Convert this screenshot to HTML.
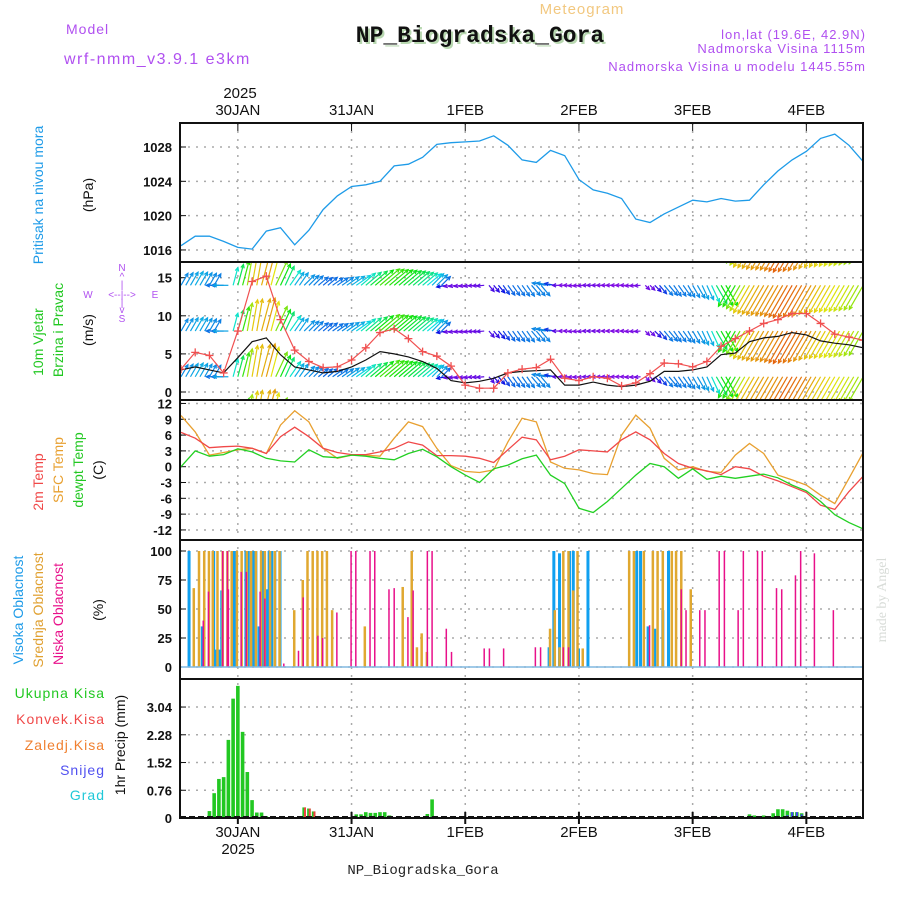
<!DOCTYPE html>
<html><head><meta charset="utf-8"><title>Meteogram NP_Biogradska_Gora</title>
<style>
html,body{margin:0;padding:0;background:#fff;}
svg{display:block;font-family:"Liberation Sans",sans-serif;}
</style></head>
<body>
<svg id="chart" xmlns="http://www.w3.org/2000/svg" width="900" height="900" viewBox="0 0 900 900">
<defs>
<clipPath id="c1"><rect x="180" y="123" width="683" height="139"/></clipPath>
<clipPath id="c2"><rect x="180" y="262" width="683" height="138"/></clipPath>
<clipPath id="c3"><rect x="180" y="400" width="683" height="140"/></clipPath>
<clipPath id="c4"><rect x="180" y="540" width="683" height="139"/></clipPath>
<clipPath id="c5"><rect x="180" y="679" width="683" height="139"/></clipPath>
</defs>
<rect width="900" height="900" fill="#fff"/>
<!-- header -->
<text x="582" y="14" font-size="15" fill="#f2c880" text-anchor="middle" letter-spacing="1">Meteogram</text>
<text x="66" y="34" font-size="14" fill="#b050f0" letter-spacing="1">Model</text>
<text x="64" y="64" font-size="16" fill="#b050f0" letter-spacing="1.5">wrf-nmm_v3.9.1 e3km</text>
<text x="482" y="44" font-size="23" font-weight="bold" fill="#b8d8b0" text-anchor="middle" font-family="Liberation Mono, monospace">NP_Biogradska_Gora</text>
<text x="480" y="42" font-size="23" font-weight="bold" fill="#111" text-anchor="middle" font-family="Liberation Mono, monospace">NP_Biogradska_Gora</text>
<text x="866" y="39" font-size="13" fill="#b050f0" text-anchor="end" letter-spacing="1">lon,lat (19.6E, 42.9N)</text>
<text x="866" y="53" font-size="13" fill="#b050f0" text-anchor="end" letter-spacing="1">Nadmorska Visina 1115m</text>
<text x="866" y="71" font-size="13" fill="#b050f0" text-anchor="end" letter-spacing="1">Nadmorska Visina u modelu 1445.55m</text>
<text x="240" y="98" font-size="15" fill="#111" text-anchor="middle">2025</text>
<text x="238" y="854" font-size="15" fill="#111" text-anchor="middle">2025</text>
<text x="423" y="874" font-size="14" fill="#222" text-anchor="middle" font-family="Liberation Mono, monospace">NP_Biogradska_Gora</text>
<text transform="rotate(-90 886 600)" x="886" y="600" font-size="14" fill="#d8dcd8" text-anchor="middle" font-family="Liberation Serif, serif">made by Angel</text>
<!-- side labels -->
<text transform="rotate(-90 43 195)" x="43" y="195" font-size="14" fill="#1e9be8" text-anchor="middle">Pritisak na nivou mora</text>
<text transform="rotate(-90 93 195)" x="93" y="195" font-size="14" fill="#111" text-anchor="middle">(hPa)</text>
<text transform="rotate(-90 43 342)" x="43" y="342" font-size="14" fill="#22c822" text-anchor="middle">10m Vjetar</text>
<text transform="rotate(-90 63 330)" x="63" y="330" font-size="14" fill="#22c822" text-anchor="middle">Brzina i Pravac</text>
<text transform="rotate(-90 93 330)" x="93" y="330" font-size="14" fill="#111" text-anchor="middle">(m/s)</text>
<g fill="#b050f0" font-size="10" text-anchor="middle">
<text x="122" y="271">N</text>
<text x="122" y="280">^</text>
<text x="122" y="288">|</text>
<text x="88" y="298">W</text>
<text x="122" y="298">&lt;--|--&gt;</text>
<text x="155" y="298">E</text>
<text x="122" y="306">|</text>
<text x="122" y="313">v</text>
<text x="122" y="322">S</text>
</g>
<text transform="rotate(-90 43 482)" x="43" y="482" font-size="14" fill="#f04848" text-anchor="middle">2m Temp</text>
<text transform="rotate(-90 63 470)" x="63" y="470" font-size="14" fill="#e8a030" text-anchor="middle">SFC Temp</text>
<text transform="rotate(-90 83 470)" x="83" y="470" font-size="14" fill="#22c822" text-anchor="middle">dewpt Temp</text>
<text transform="rotate(-90 103 470)" x="103" y="470" font-size="14" fill="#111" text-anchor="middle">(C)</text>
<text transform="rotate(-90 23 610)" x="23" y="610" font-size="14" fill="#1e9be8" text-anchor="middle">Visoka Oblacnost</text>
<text transform="rotate(-90 43 610)" x="43" y="610" font-size="14" fill="#e0a030" text-anchor="middle">Srednja Oblacnost</text>
<text transform="rotate(-90 63 614)" x="63" y="614" font-size="14" fill="#e8108a" text-anchor="middle">Niska Oblacnost</text>
<text transform="rotate(-90 103 610)" x="103" y="610" font-size="14" fill="#111" text-anchor="middle">(%)</text>
<g font-size="14" text-anchor="end">
<text x="105" y="698" fill="#22c822" letter-spacing="1">Ukupna Kisa</text>
<text x="105" y="724" fill="#f04848" letter-spacing="1">Konvek.Kisa</text>
<text x="105" y="750" fill="#f08030" letter-spacing="1">Zaledj.Kisa</text>
<text x="105" y="775" fill="#5050f0" letter-spacing="1">Snijeg</text>
<text x="105" y="800" fill="#20c8d8" letter-spacing="1">Grad</text>
</g>
<text transform="rotate(-90 125 745)" x="125" y="745" font-size="14" fill="#111" text-anchor="middle">1hr Precip (mm)</text>
<g id="grid"></g>
<g id="marks"></g>
<g id="frames"></g>
</svg>
<script>
// ---- data ----
const dayLabels = ["30JAN","31JAN","1FEB","2FEB","3FEB","4FEB"];
const dayHours = [12,36,60,84,108,132];
const pTicks = [1016,1020,1024,1028];
const wTicks = [0,5,10,15];
const tTicks = [12,9,6,3,0,-3,-6,-9,-12];
const cTicks = [0,25,50,75,100];
const rTicks = ["0","0.76","1.52","2.28","3.04"];
// 3-hourly series, hour 0 = 29JAN 12UTC
const pressure = [1016.5,1017.6,1017.6,1017.0,1016.3,1016.1,1018.2,1018.6,1016.6,1018.3,1020.7,1022.3,1023.4,1023.6,1024.0,1025.8,1026.0,1026.8,1028.3,1028.5,1028.6,1028.7,1029.3,1028.2,1026.5,1026.2,1027.6,1027.0,1024.2,1023.0,1022.6,1022.0,1019.6,1019.2,1020.2,1021.0,1021.8,1021.6,1022.0,1021.7,1021.8,1023.6,1025.2,1026.5,1027.5,1029.0,1029.5,1028.2,1026.3];
const windSpeed = [2.9,3.3,2.9,2.5,4.5,6.6,7.1,4.9,3.3,2.9,2.5,2.7,3.3,4.2,5.3,5.0,4.6,4.0,3.1,1.5,1.2,1.4,1.8,2.5,2.7,2.8,2.9,0.9,0.9,1.3,0.9,0.7,0.9,1.4,2.7,2.7,2.9,3.3,4.9,5.1,6.6,7.1,7.3,7.8,7.5,6.7,6.4,6.2,5.8];
const windGust = [3.0,5.2,4.8,2.5,8.0,14.5,15.2,9.5,5.5,4.0,3.2,3.3,4.2,5.8,7.8,8.3,7.0,5.3,4.7,3.4,0.9,0.5,0.5,2.5,3.0,3.2,4.3,1.8,1.5,2.0,1.8,0.8,1.2,2.4,3.8,3.7,3.3,4.0,6.0,7.0,8.0,9.0,9.5,10.3,10.3,9.0,7.6,7.2,6.8];
const windDir = [60,60,60,180,75,80,75,65,55,45,40,35,35,40,40,40,40,40,45,190,190,185,-50,-55,-55,-50,170,180,185,180,180,180,185,-45,-50,-55,-60,-65,-60,240,240,240,240,240,240,240,240,240,240];
const temp2m = [6.5,5.4,3.6,3.8,3.9,3.5,2.5,5.7,7.5,5.7,3.5,2.7,2.3,2.3,2.8,3.5,4.7,4.1,2.1,2.1,2.0,1.6,0.8,3.2,5.6,5.1,1.3,2.0,3.2,3.0,2.8,5.1,6.6,5.1,2.5,0.6,-0.3,-0.8,-1.5,0,-0.4,-1.8,-2.7,-3.8,-4.9,-7.3,-8.1,-4.7,-1.8];
const tempSfc = [9.7,6.6,2.2,2.7,3.2,3.5,2.5,7.9,10.6,8.5,3.5,1.6,2.2,2.2,2.0,5.4,8.5,7.6,3.5,0.2,-0.9,-1.1,-0.6,4.7,9.2,8.5,0.9,-0.3,-0.6,-1.3,-1.5,6.0,9.8,7.3,1.6,-0.6,0,-0.9,-1.1,2.2,4.4,2.5,-1.6,-2.5,-3.5,-5.4,-7.0,-2.2,2.7];
const dewpt = [0,3.0,2.0,2.3,3.4,2.8,1.6,1.1,0.9,3.2,1.9,1.7,2.2,2.0,1.6,1.3,2.5,3.3,1.9,0,-1.6,-3.0,-0.4,0.3,1.5,2.2,-1.6,-3.2,-7.9,-8.7,-6.6,-4.1,-1.6,0.6,0,-2.2,-0.4,-2.4,-1.8,-2.2,-1.8,-1.4,-2.1,-3.5,-4.6,-6.6,-9.1,-10.6,-11.8];
const highHours = [1.7,4.5,6.9,7.5,8.1,8.6,10.8,11.3,13.7,14.2,15.3,15.8,16.5,17.4,18.1,18.6,19.1,19.8,20.9,77.7,78.7,79.9,82.0,82.8,83.9,85.9,96.2,97.0,98.6,100.0,101.7,102.9];
const highVals  = [100,35,100,15,15,66,100,100,100,100,100,100,35,100,67,100,100,100,100,17,100,98,100,100,16,100,100,100,35,33,49,100];
const midHours = [2.7,3.8,4.9,5.9,6.7,7.7,8.8,9.8,10.7,11.8,12.8,13.9,14.8,15.8,16.9,17.7,18.8,19.8,20.8,23.9,25.7,26.7,27.8,28.8,29.8,30.8,31.9,38.8,46.8,48.7,49.8,50.8,51.9,77.9,78.9,79.9,80.7,81.8,82.8,83.7,84.8,94.6,95.6,97.7,99.6,100.6,101.7,103.6,104.5,105.6,107.6];
const midVals  = [68,100,100,100,100,100,100,100,100,100,100,100,100,100,100,100,100,100,100,49,75,100,100,100,100,100,49,35,69,100,17,29,13,33,49,17,100,100,66,100,16,100,100,100,100,100,100,100,100,100,67];
const lowHours = [4.7,5.8,8.8,9.8,10.0,12.7,13.8,16.7,17.7,21.7,24.8,25.8,28.9,29.9,32.9,35.9,36.9,39.9,40.9,43.9,45.0,47.9,49.0,52.0,53.0,56.0,57.1,64.0,65.1,68.1,74.8,75.9,80.7,81.8,98.9,105.6,106.6,109.5,110.6,113.6,114.7,117.6,118.7,121.7,122.7,125.7,126.8,129.7,130.8,133.7,137.7];
const lowVals  = [40,65,100,100,67,82,82,65,59,3,14,60,27,25,47,100,100,100,100,67,68,43,66,100,100,33,13,16,16,16,17,17,17,17,36,67,49,49,49,100,100,49,100,100,100,68,67,79,100,98,49];
const precipHours = [6,7,8,9,10,11,12,13,14,15,16,17,18,26,27,28,37,38,39,40,41,42,43,44,52,53,54,113,114,115,119,120,121,122,123,124,125,126,127,128,129,130,131];
const precipTotal = [0.19,0.68,1.07,1.12,2.14,3.27,3.62,2.36,1.26,0.49,0.15,0.15,0.05,0.29,0.26,0.18,0.10,0.10,0.16,0.14,0.14,0.16,0.16,0.07,0.11,0.51,0.03,0.03,0.03,0.03,0.03,0.10,0.07,0.04,0.07,0.04,0.13,0.24,0.24,0.20,0.16,0.16,0.13];
const precipConv  = [0,0,0,0,0,0,0.03,0,0,0,0,0,0,0.29,0.26,0.18,0,0,0,0,0,0,0,0,0,0,0,0,0,0,0,0.03,0,0,0.03,0,0,0,0,0,0,0,0];
const precipSnow  = [0,0,0,0,0,0,0,0,0,0,0,0,0,0,0,0,0.02,0.02,0.03,0.02,0.03,0.03,0.02,0,0,0.03,0,0,0,0,0,0,0,0,0,0,0,0.03,0.03,0.08,0.16,0.16,0.10];

// ---- scales ----
const X = h => 181 + h * 113.7 / 24;
const Yp = v => 147 + (1028 - v) * 8.58;
const Yw = v => 392 - v * 7.62;
const Yt = v => 466.7 - v * 5.27;
const Yc = v => 667 - v * 1.16;
const Yr = v => 818 - v * 36.5;
const NS = "http://www.w3.org/2000/svg";
function mk(tag, attrs, parent){const e=document.createElementNS(NS,tag);for(const k in attrs)e.setAttribute(k,attrs[k]);parent.appendChild(e);return e;}
const grid = document.getElementById('grid');
const marks = document.getElementById('marks');
const frames = document.getElementById('frames');
const panels = [[123,262],[262,400],[400,540],[540,679],[679,818]];

dayHours.forEach(h=>{
  const gx = X(h);
  const gl = mk('line',{x1:gx,x2:gx,y1:123,y2:818,stroke:'#aaa','stroke-width':1.5,'stroke-dasharray':'2,6'},grid);
  
  
});
function hgrid(vals, fy, fmt, name){
  vals.forEach(v=>{
    const y = fy(parseFloat(v));
    const l = mk('line',{x1:180,x2:863,y1:y,y2:y,stroke:'#aaa','stroke-width':1.5,'stroke-dasharray':'2,6'},grid);
    
    
    const t = mk('text',{x:172,y:y+5,'font-size':13,'font-weight':'bold','text-anchor':'end',fill:'#111'},grid);
    t.textContent = fmt(v);
    
    
    const tk = mk('line',{x1:180,x2:186,y1:y,y2:y,stroke:'#111','stroke-width':1},grid);
    
    
  });
}
hgrid(pTicks, Yp, v=>v, 'pressure');
hgrid(wTicks, Yw, v=>v, 'wind');
hgrid(tTicks, Yt, v=>v, 'temp');
hgrid(cTicks, Yc, v=>v, 'cloud');
hgrid(rTicks, Yr, v=>v, 'precip');

dayLabels.forEach((d,i)=>{
  const gx = X(dayHours[i]);
  const t1 = mk('text',{x:gx,y:115,'font-size':15,'text-anchor':'middle',fill:'#111'},grid);
  t1.textContent = d;
  
  
  const t2 = mk('text',{x:gx,y:837,'font-size':15,'text-anchor':'middle',fill:'#111'},grid);
  t2.textContent = d;
  
  
  const a = mk('line',{x1:gx,x2:gx,y1:123,y2:131,stroke:'#111'},grid);
  
  
  const b = mk('line',{x1:gx,x2:gx,y1:812,y2:824,stroke:'#111','stroke-width':2},grid);
  
  
});

function series(arr, fy, color, clip, name, w){
  const pts = arr.map((v,i)=>X(i*3).toFixed(1)+','+fy(v).toFixed(1)).join(' ');
  const p = mk('polyline',{points:pts,fill:'none',stroke:color,'stroke-width':w||1.3,'clip-path':'url(#'+clip+')'},marks);
  
  
  return p;
}
series(pressure, Yp, '#1e9be8', 'c1', 'pressure-line');

function hueFor(s){
  const st=[[0,280],[1.5,265],[2.5,215],[3.5,190],[4.5,140],[5.5,95],[6.5,55],[7.5,32],[8.5,5],[10,-30]];
  if(s<=st[0][0]) return st[0][1];
  for(let i=1;i<st.length;i++){ if(s<=st[i][0]){const a=st[i-1],b=st[i];return a[1]+(b[1]-a[1])*(s-a[0])/(b[0]-a[0]);}}
  return st[st.length-1][1];
}
const windG = mk('g',{'clip-path':'url(#c2)'},marks);


const rows = [-4,2,8,14,20];
for(let h=0; h<=144; h++){
  const i = Math.min(Math.floor(h/3), windSpeed.length-2);
  const f = (h - i*3)/3;
  const s = windSpeed[i]*(1-f) + windSpeed[i+1]*f;
  const d = windDir[Math.round(h/3)] * Math.PI/180;
  const len = Math.max(6, s*4.8);
  const col = 'hsl(' + ((hueFor(s)+360)%360).toFixed(0) + ',90%,47%)';
  rows.forEach(r=>{
    const x0 = X(h), y0 = Yw(r);
    const x1 = x0 + len*Math.cos(d), y1 = y0 - len*Math.sin(d);
    const ln = mk('line',{x1:x0,y1:y0,x2:x1,y2:y1,stroke:col,'stroke-width':1.2},windG);
    
    
    const a1 = d + Math.PI - 0.45, a2 = d + Math.PI + 0.45;
    const hd = mk('polyline',{points:(x1+4*Math.cos(a1))+','+(y1-4*Math.sin(a1))+' '+x1+','+y1+' '+(x1+4*Math.cos(a2))+','+(y1-4*Math.sin(a2)),fill:'none',stroke:col,'stroke-width':1.2},windG);
    
    
  });
}
series(windSpeed, Yw, '#111', 'c2', 'wind-speed-line', 1.2);
series(windGust, Yw, '#f05050', 'c2', 'wind-gust-line', 1.2);
windGust.forEach((v,i)=>{
  const x = X(i*3), y = Yw(v);
  const m = mk('path',{d:'M'+(x-4)+','+y+'h8M'+x+','+(y-4)+'v8',stroke:'#f05050','stroke-width':1.3,'clip-path':'url(#c2)'},marks);
  
  
});

series(tempSfc, Yt, '#e8a030', 'c3', 'sfc-temp-line');
series(temp2m, Yt, '#f04848', 'c3', 'temp2m-line');
series(dewpt, Yt, '#22d022', 'c3', 'dewpt-line');

function cloudBars(hours, vals, color, w, name){
  hours.forEach((h,i)=>{
    const y = Yc(vals[i]);
    const r = mk('rect',{x:X(h)-w/2,y:y,width:w,height:667-y,fill:color,'clip-path':'url(#c4)'},marks);
    
    
  });
}
cloudBars(highHours, highVals, '#10a0f0', 3, 'high-cloud-bar');
cloudBars(midHours, midVals, '#e0a830', 2.5, 'mid-cloud-bar');
cloudBars(lowHours, lowVals, '#e8108a', 1.5, 'low-cloud-bar');
const cb = mk('line',{x1:180,x2:863,y1:667,y2:667,stroke:'#80b8e0','stroke-width':1.5},marks);



precipHours.forEach((h,i)=>{
  const x = X(h)-1.8;
  const t = mk('rect',{x:x,y:Yr(precipTotal[i]),width:3.6,height:818-Yr(precipTotal[i]),fill:'#22c822'},marks);
  
  
  if(precipConv[i]>0){
    const c = mk('rect',{x:x+1.6,y:Yr(precipConv[i]),width:2,height:818-Yr(precipConv[i]),fill:'#f04040'},marks);
    
    
  }
  if(precipSnow[i]>0){
    const s = mk('rect',{x:x+0.8,y:Yr(precipSnow[i]),width:2,height:818-Yr(precipSnow[i]),fill:'#4040f0'},marks);
    
    
  }
});
const pb = mk('line',{x1:180,x2:863,y1:817,y2:817,stroke:'#111','stroke-width':2,'stroke-dasharray':'6,3'},marks);



panels.forEach((p,i)=>{
  const r = mk('rect',{x:180,y:p[0],width:683,height:p[1]-p[0],fill:'none',stroke:'#111','stroke-width':2},frames);
  
  
});
</script>
</body></html>
